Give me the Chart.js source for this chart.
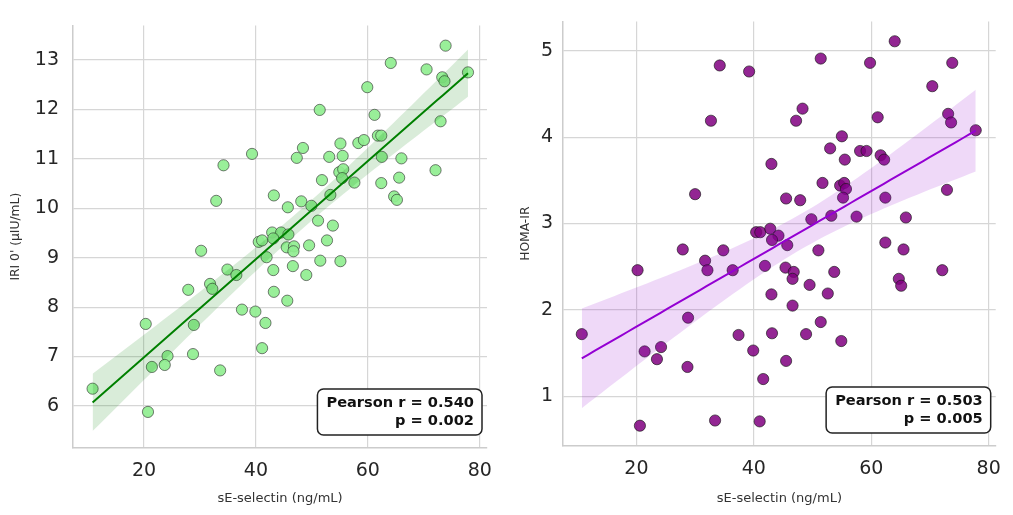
<!DOCTYPE html>
<html>
<head>
<meta charset="utf-8">
<script src="https://cdn.jsdelivr.net/npm/chart.js@4.4.1/dist/chart.umd.min.js"></script>
<style>
  body { margin: 0; background: #fff; }
  .panel { position: absolute; top: 0; height: 515px; }
</style>
</head>
<body>
<div class="panel" style="left:0;width:506px"><canvas id="iri"></canvas></div>
<div class="panel" style="left:506px;width:507px"><canvas id="homa"></canvas></div>
<script>
// sE-selectin (ng/mL) vs IRI 0' (µIU/mL)
const selectinIri = [73.9, 64.1, 70.5, 73.3, 73.7, 77.9, 59.9, 51.4, 61.2, 73.0, 61.8, 62.4, 58.3, 59.3, 55.1,
  39.3, 48.4, 47.3, 53.1, 55.5, 62.5, 66.0, 34.2, 72.1, 54.9, 55.6, 55.4, 51.8, 57.6, 62.4, 65.6, 64.7, 65.2,
  32.9, 43.2, 48.1, 45.7, 49.9, 53.3, 51.1, 53.75, 42.9, 44.5, 45.8, 40.5, 41.1, 43.1, 45.5, 46.8, 46.7, 49.5,
  52.7, 30.2, 41.9, 34.9, 36.5, 43.1, 46.6, 51.5, 55.1, 49.0, 27.9, 31.8, 32.2, 43.2, 45.6, 37.5, 39.9, 41.7,
  20.3, 28.9, 41.1, 28.75, 24.2, 21.4, 23.7, 33.6, 10.8, 20.7];
const iriValues = [13.29, 12.94, 12.81, 12.65, 12.57, 12.75, 12.45, 11.99, 11.89, 11.76, 11.47, 11.47, 11.32, 11.38, 11.31,
  11.10, 11.22, 11.02, 11.04, 11.06, 11.04, 11.01, 10.87, 10.77, 10.73, 10.79, 10.61, 10.57, 10.52, 10.51, 10.62, 10.24, 10.17,
  10.15, 10.26, 10.14, 10.02, 10.05, 10.27, 9.75, 9.65, 9.51, 9.51, 9.47, 9.32, 9.35, 9.39, 9.21, 9.23, 9.13, 9.25,
  9.35, 9.14, 9.01, 8.76, 8.65, 8.75, 8.83, 8.94, 8.93, 8.65, 8.35, 8.47, 8.37, 8.31, 8.13, 7.95, 7.91, 7.68,
  7.66, 7.64, 7.17, 7.05, 7.01, 6.79, 6.83, 6.72, 6.35, 5.88];

// sE-selectin (ng/mL) vs HOMA-IR
const selectinHoma = [64.0, 34.2, 39.2, 51.4, 59.8, 73.8, 70.4, 73.1, 73.6, 77.8, 61.1, 32.7, 47.2, 48.3, 55.0,
  53.0, 55.5, 58.1, 59.2, 61.6, 62.2, 43.0, 30.0, 51.7, 54.7, 55.4, 55.7, 55.2, 45.5, 47.9, 62.4, 72.9, 49.8,
  53.2, 57.5, 65.9, 40.4, 41.1, 42.8, 44.2, 43.1, 45.7, 51.0, 62.4, 65.5, 27.9, 34.8, 31.7, 32.1, 36.4, 20.2,
  41.9, 45.4, 46.8, 46.6, 49.5, 53.7, 52.6, 43.0, 46.6, 72.1, 64.7, 65.1, 28.8, 51.4, 10.7, 37.4, 43.1, 48.9,
  54.9, 21.4, 24.2, 23.5, 39.9, 28.7, 45.5, 41.6, 20.6, 33.4, 41.0];
const homaValues = [5.11, 4.83, 4.76, 4.91, 4.86, 4.86, 4.59, 4.27, 4.17, 4.08, 4.23, 4.19, 4.19, 4.33, 4.01,
  3.87, 3.74, 3.84, 3.84, 3.79, 3.74, 3.69, 3.34, 3.47, 3.44, 3.47, 3.40, 3.30, 3.29, 3.27, 3.30, 3.39, 3.05,
  3.09, 3.08, 3.07, 2.90, 2.90, 2.94, 2.86, 2.81, 2.75, 2.69, 2.78, 2.70, 2.70, 2.69, 2.57, 2.46, 2.46, 2.46,
  2.51, 2.49, 2.44, 2.36, 2.29, 2.44, 2.19, 2.18, 2.05, 2.46, 2.36, 2.28, 1.91, 1.86, 1.72, 1.71, 1.73, 1.72,
  1.64, 1.52, 1.57, 1.43, 1.53, 1.34, 1.41, 1.20, 0.66, 0.72, 0.71];

const xTicks = [20, 40, 60, 80];
const iriTicks = [6, 7, 8, 9, 10, 11, 12, 13];
const homaTicks = [1, 2, 3, 4, 5];
const iriStats = ["Pearson r = 0.540", "p = 0.002"];
const homaStats = ["Pearson r = 0.503", "p = 0.005"];

const FONT = "'DejaVu Sans', sans-serif";

// least squares fit + 95% CI of the mean, like seaborn regplot
function regression(xs, ys) {
  const n = xs.length;
  const mx = xs.reduce((a, b) => a + b, 0) / n;
  const my = ys.reduce((a, b) => a + b, 0) / n;
  let sxx = 0, sxy = 0;
  for (let i = 0; i < n; i++) {
    sxx += (xs[i] - mx) ** 2;
    sxy += (xs[i] - mx) * (ys[i] - my);
  }
  const b = sxy / sxx, a = my - b * mx;
  let sse = 0;
  for (let i = 0; i < n; i++) sse += (ys[i] - a - b * xs[i]) ** 2;
  const s = Math.sqrt(sse / (n - 2));
  const lo = Math.min(...xs), hi = Math.max(...xs);
  const line = [], upper = [], lower = [];
  for (let k = 0; k <= 60; k++) {
    const x = lo + (hi - lo) * k / 60;
    const y = a + b * x;
    const h = 1.99 * s * Math.sqrt(1 / n + (x - mx) ** 2 / sxx);
    line.push({ x, y });
    upper.push({ x, y: y + h });
    lower.push({ x, y: y - h });
  }
  return { line, upper, lower };
}

const statBox = {
  id: "statBox",
  afterDraw(chart, args, opts) {
    const { ctx, chartArea } = chart;
    ctx.save();
    ctx.font = "bold 14.6px " + FONT;
    const w = Math.max(...opts.lines.map(t => ctx.measureText(t).width)) + 17;
    const h = 46;
    const right = chartArea.right - 5;
    const bottom = chartArea.bottom - 13;
    ctx.beginPath();
    ctx.roundRect(right - w, bottom - h, w, h, 6);
    ctx.fillStyle = "#fff";
    ctx.fill();
    ctx.lineWidth = 1.5;
    ctx.strokeStyle = "#222";
    ctx.stroke();
    ctx.fillStyle = "#111";
    ctx.textAlign = "right";
    ctx.textBaseline = "middle";
    opts.lines.forEach((t, i) => ctx.fillText(t, right - 8, bottom - h + 14 + i * 17.8));
    ctx.restore();
  },
};

function buildPanel(id, xs, ys, cfg) {
  const fit = regression(xs, ys);
  new Chart(document.getElementById(id), {
    type: "scatter",
    data: {
      datasets: [
        {
          data: xs.map((x, i) => ({ x, y: ys[i] })),
          backgroundColor: cfg.pointColor,
          borderColor: cfg.edgeColor,
          borderWidth: 0.8,
          pointRadius: 5.6,
          order: 3,
        },
        {
          type: "line",
          data: fit.upper,
          borderWidth: 0,
          pointRadius: 0,
          backgroundColor: cfg.bandColor,
          fill: "+1",
          order: 2,
        },
        {
          type: "line",
          data: fit.lower,
          borderWidth: 0,
          pointRadius: 0,
          fill: false,
          order: 2,
        },
        {
          type: "line",
          data: fit.line,
          borderColor: cfg.lineColor,
          borderWidth: 2,
          pointRadius: 0,
          fill: false,
          order: 1,
        },
      ],
    },
    options: {
      responsive: true,
      maintainAspectRatio: false,
      animation: false,
      layout: { padding: { top: cfg.top, right: cfg.right, left: 0, bottom: 0 } },
      plugins: {
        legend: { display: false },
        tooltip: { enabled: false },
        statBox: { lines: cfg.stats },
      },
      scales: {
        x: {
          type: "linear",
          min: cfg.xMin,
          max: cfg.xMax,
          afterBuildTicks: (s) => { s.ticks = xTicks.map(v => ({ value: v })); },
          afterFit: (s) => { s.height = cfg.xHeight; },
          grid: { color: "#d6d6d6", lineWidth: 1.2, drawTicks: false },
          border: { color: "#cccccc", width: 1.5 },
          ticks: { font: { family: FONT, size: 19 }, color: "#262626", padding: 12 },
          title: {
            display: true,
            text: "sE-selectin (ng/mL)",
            font: { family: FONT, size: 13 },
            color: "#333",
            padding: { top: 0, bottom: 9 },
          },
        },
        y: {
          min: cfg.yMin,
          max: cfg.yMax,
          afterBuildTicks: (s) => { s.ticks = cfg.yTicks.map(v => ({ value: v })); },
          afterFit: (s) => { s.width = cfg.yWidth; },
          grid: { color: "#d6d6d6", lineWidth: 1.2, drawTicks: false },
          border: { color: "#cccccc", width: 1.5 },
          ticks: { font: { family: FONT, size: 19 }, color: "#262626", padding: cfg.yPad },
          title: {
            display: true,
            text: cfg.yTitle,
            font: { family: FONT, size: 12.3 },
            color: "#333",
            padding: { top: cfg.titlePad, bottom: 0 },
          },
        },
      },
    },
    plugins: [statBox],
  });
}

buildPanel("iri", selectinIri, iriValues, {
  pointColor: "rgba(144,238,144,0.92)",
  edgeColor: "rgba(40,40,40,0.75)",
  lineColor: "#008000",
  bandColor: "rgba(0,128,0,0.15)",
  xMin: 7.3, xMax: 81.3, yMin: 5.15, yMax: 13.7,
  yTicks: iriTicks, yTitle: "IRI 0' (µIU/mL)", stats: iriStats,
  top: 20, right: 19, xHeight: 67, yWidth: 73, yPad: 14, titlePad: 8,
});

buildPanel("homa", selectinHoma, homaValues, {
  pointColor: "rgba(128,0,128,0.85)",
  edgeColor: "rgba(20,20,20,0.8)",
  lineColor: "#9400d3",
  bandColor: "rgba(148,0,211,0.15)",
  xMin: 7.5, xMax: 81.2, yMin: 0.425, yMax: 5.34,
  yTicks: homaTicks, yTitle: "HOMA-IR", stats: homaStats,
  top: 10, right: 16, xHeight: 69, yWidth: 57, yPad: 10, titlePad: 12,
});
</script>
</body>
</html>
